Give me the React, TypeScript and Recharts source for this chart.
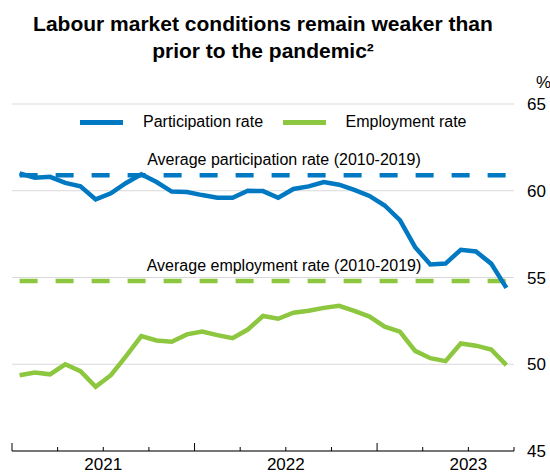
import { LineChart, Line, XAxis, YAxis, CartesianGrid, ReferenceLine, Legend } from "recharts";

const FONT = "'Liberation Sans', Arial, sans-serif";
const BLUE = "#0079C2";
const GREEN = "#8DC63F";

const months = [
  "Jan 2021", "Feb 2021", "Mar 2021", "Apr 2021", "May 2021", "Jun 2021",
  "Jul 2021", "Aug 2021", "Sep 2021", "Oct 2021", "Nov 2021", "Dec 2021",
  "Jan 2022", "Feb 2022", "Mar 2022", "Apr 2022", "May 2022", "Jun 2022",
  "Jul 2022", "Aug 2022", "Sep 2022", "Oct 2022", "Nov 2022", "Dec 2022",
  "Jan 2023", "Feb 2023", "Mar 2023", "Apr 2023", "May 2023", "Jun 2023",
  "Jul 2023", "Aug 2023", "Sep 2023",
];

const participation = [
  61.0, 60.75, 60.8, 60.45, 60.25, 59.5, 59.85, 60.45, 60.95, 60.5, 59.95, 59.93,
  59.75, 59.6, 59.6, 60.0, 59.98, 59.6, 60.1, 60.25, 60.5, 60.35, 60.05, 59.7,
  59.15, 58.3, 56.75, 55.75, 55.8, 56.6, 56.5, 55.8, 54.4,
];

const employment = [
  49.37, 49.52, 49.42, 50.0, 49.6, 48.7, 49.37, 50.47, 51.62, 51.37, 51.3, 51.72,
  51.88, 51.68, 51.5, 52.0, 52.78, 52.62, 52.97, 53.08, 53.25, 53.37, 53.07, 52.75,
  52.17, 51.88, 50.77, 50.35, 50.18, 51.2, 51.07, 50.85, 49.95,
];

const seriesNames = ["Participation rate", "Employment rate"];
const avgParticipation = 60.9;
const avgEmployment = 54.8;
const yearLabels = ["2021", "2022", "2023"];
const yTicks = [45, 50, 55, 60, 65];

const data = months.map((m, i) => ({
  idx: i,
  month: m,
  participation: participation[i],
  employment: employment[i],
}));

// quarter boundaries sit between monthly points
const quarterTicks = months
  .filter((_, i) => i % 3 === 0)
  .map((_, q) => q * 3 - 0.5)
  .concat(months.length - 0.5);

function QuarterTick({ x, y, payload }: any) {
  const pos = payload.value + 0.5;
  const tall = pos % 12 === 0;
  const mid = pos % 12 === 6;
  return (
    <g>
      <line x1={x} x2={x} y1={y} y2={y - (tall ? 8 : 4)} stroke="#000" strokeWidth={1} />
      {mid && (
        <text x={x} y={y + 18.5} textAnchor="middle" fontSize={17} fill="#000" fontFamily={FONT}>
          {yearLabels[(pos - 6) / 12]}
        </text>
      )}
    </g>
  );
}

function AvgLabel({ viewBox, text }: any) {
  return (
    <text
      x={viewBox.x + viewBox.width / 2 + 21}
      y={viewBox.y - 10}
      textAnchor="middle"
      fontSize={16}
      fill="#000"
      fontFamily={FONT}
    >
      {text}
    </text>
  );
}

function LegendContent({ payload }: any) {
  const items = [...(payload || [])].sort(
    (a: any, b: any) => seriesNames.indexOf(a.value) - seriesNames.indexOf(b.value)
  );
  return (
    <div style={{ display: "flex", alignItems: "center", fontSize: 16, fontFamily: FONT, lineHeight: "24px", color: "#000" }}>
      {items.map((p: any) => (
        <div key={p.value} style={{ display: "flex", alignItems: "center", marginRight: 19.5, whiteSpace: "nowrap" }}>
          <svg width={43} height={5} style={{ display: "block" }}>
            <rect width={43} height={5} fill={p.color} />
          </svg>
          <span style={{ marginLeft: 20 }}>{p.value}</span>
        </div>
      ))}
    </div>
  );
}

export default function App() {
  return (
    <div style={{ position: "absolute", left: 0, top: 0, width: 550, height: 473, fontFamily: FONT, background: "#fff" }}>
      <div
        style={{
          position: "absolute",
          left: 12,
          top: 10,
          width: 502,
          textAlign: "center",
          fontSize: 21,
          lineHeight: "27px",
          fontWeight: "bold",
          color: "#000",
        }}
      >
        Labour market conditions remain weaker than
        <br />
        prior to the pandemic²
      </div>
      <div style={{ position: "absolute", left: 536, top: 73.6, fontSize: 17, lineHeight: "17px", color: "#000" }}>%</div>
      <LineChart width={550} height={473} data={data} margin={{ top: 104, right: 0, bottom: 0, left: 12 }}>
        <CartesianGrid vertical={false} stroke="#d9d9d9" />
        <XAxis
          type="number"
          dataKey="idx"
          domain={[-0.5, months.length - 0.5]}
          ticks={quarterTicks}
          interval={0}
          height={22}
          tickSize={0}
          tickMargin={0}
          tickLine={false}
          axisLine={{ stroke: "#000" }}
          tick={<QuarterTick />}
        />
        <YAxis
          orientation="right"
          domain={[45, 65]}
          ticks={yTicks}
          width={36}
          axisLine={false}
          tickLine={false}
          tickSize={0}
          tickMargin={13}
          tick={{ fontSize: 17, fill: "#000", fontFamily: FONT }}
        />
        <Legend
          verticalAlign="middle"
          align="center"
          itemSorter={null as any}
          content={<LegendContent />}
          wrapperStyle={{ top: 110, left: 80, width: "auto" }}
        />
        <ReferenceLine
          segment={[
            { x: 0, y: avgParticipation },
            { x: months.length - 1, y: avgParticipation },
          ]}
          stroke={BLUE}
          strokeWidth={4.5}
          strokeDasharray="18 18"
          label={<AvgLabel text="Average participation rate (2010-2019)" />}
        />
        <ReferenceLine
          segment={[
            { x: 0, y: avgEmployment },
            { x: months.length - 1, y: avgEmployment },
          ]}
          stroke={GREEN}
          strokeWidth={4.5}
          strokeDasharray="18 18"
          label={<AvgLabel text="Average employment rate (2010-2019)" />}
        />
        <Line
          dataKey="participation"
          name={seriesNames[0]}
          stroke={BLUE}
          strokeWidth={4.5}
          dot={false}
          isAnimationActive={false}
        />
        <Line
          dataKey="employment"
          name={seriesNames[1]}
          stroke={GREEN}
          strokeWidth={4.5}
          dot={false}
          isAnimationActive={false}
        />
      </LineChart>
    </div>
  );
}
